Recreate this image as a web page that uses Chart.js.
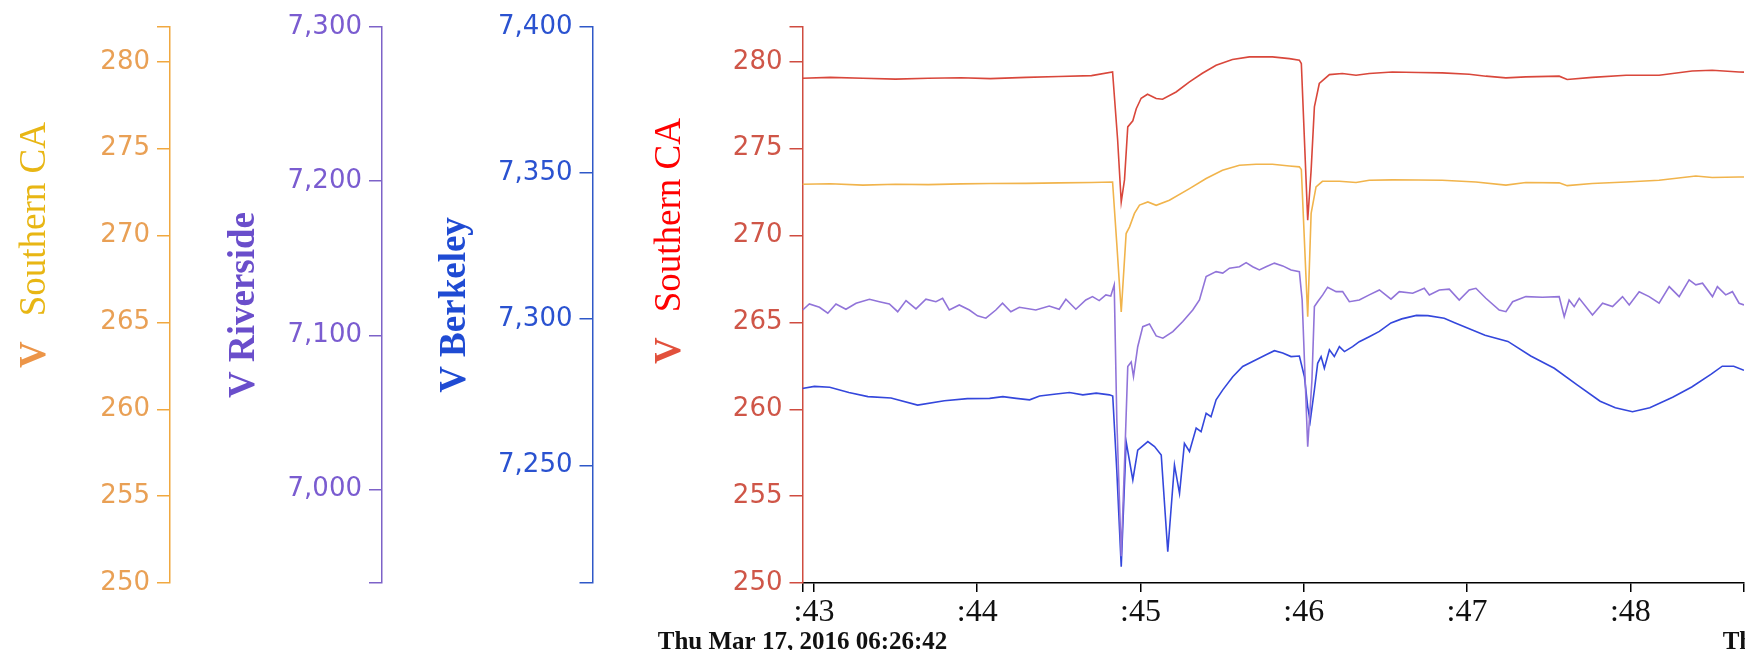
<!DOCTYPE html>
<html>
<head>
<meta charset="utf-8">
<script src="https://cdn.jsdelivr.net/npm/chart.js@4/dist/chart.umd.min.js"></script>
<style>
html, body { margin: 0; padding: 0; background: #ffffff; }
#wrap { width: 1745px; height: 650px; position: relative; }
</style>
</head>
<body>
<div id="wrap"><canvas id="c"></canvas></div>
<script>
// ---------- tick labels ----------
const startLabel = 'Thu Mar 17, 2016 06:26:42';
const endLabelVisible = 'Th';
const xTicks = [42.93, 43, 44, 45, 46, 47, 48, 48.696];          // seconds
const socalTicks = [250, 255, 260, 265, 270, 275, 280, 282];
const riversideTicks = [6939.5, 7000, 7100, 7200, 7300];
const berkeleyTicks = [7209.7, 7250, 7300, 7350, 7400];

// ---------- series: V Southern CA (red, main axis) ----------
const socalMainTime = [
  42.93, 43.10, 43.30, 43.50, 43.70, 43.90, 44.08, 44.30, 44.50, 44.70,
  44.829, 44.860, 44.882, 44.902, 44.922, 44.953, 44.974, 45.004, 45.043, 45.096,
  45.135, 45.218, 45.300, 45.379, 45.463, 45.563, 45.667, 45.808, 45.912, 45.973,
  45.985, 46.024, 46.045, 46.065, 46.095, 46.157, 46.236, 46.320, 46.401, 46.542,
  46.700, 46.848, 47.013, 47.116, 47.238, 47.360, 47.564, 47.613, 47.766, 47.974,
  48.176, 48.378, 48.501, 48.666, 48.696
];
const socalMainVolts = [
  279.05, 279.10, 279.05, 279.00, 279.05, 279.08, 279.03, 279.10, 279.15, 279.20,
  279.41, 275.50, 271.93, 273.20, 276.25, 276.60, 277.30, 277.90, 278.13, 277.88,
  277.84, 278.26, 278.84, 279.34, 279.80, 280.13, 280.28, 280.28, 280.18, 280.09,
  279.90, 270.88, 273.76, 277.40, 278.75, 279.26, 279.32, 279.22, 279.32, 279.41,
  279.38, 279.36, 279.28, 279.17, 279.07, 279.13, 279.17, 278.98, 279.10, 279.22,
  279.22, 279.47, 279.51, 279.41, 279.40
];

// ---------- series: V Southern CA (orange, outer axis) ----------
const socalAltTime = [
  42.93, 43.10, 43.30, 43.50, 43.70, 43.90, 44.08, 44.30, 44.50, 44.70,
  44.829, 44.855, 44.882, 44.912, 44.933, 44.963, 44.994, 45.045, 45.096, 45.177,
  45.300, 45.402, 45.502, 45.606, 45.708, 45.808, 45.912, 45.973, 45.985, 46.024,
  46.045, 46.075, 46.114, 46.218, 46.320, 46.401, 46.542, 46.700, 46.848, 47.054,
  47.238, 47.360, 47.564, 47.613, 47.766, 47.974, 48.176, 48.401, 48.501, 48.666,
  48.696
];
const socalAltVolts = [
  272.95, 272.98, 272.90, 272.95, 272.93, 272.97, 272.99, 273.00, 273.03, 273.05,
  273.08, 269.50, 265.60, 270.11, 270.50, 271.27, 271.75, 271.93, 271.74, 272.03,
  272.70, 273.28, 273.76, 274.04, 274.10, 274.10, 274.00, 273.95, 273.80, 265.32,
  271.27, 272.80, 273.12, 273.12, 273.05, 273.18, 273.20, 273.19, 273.18, 273.08,
  272.90, 273.05, 273.03, 272.87, 272.99, 273.08, 273.18, 273.42, 273.34, 273.37,
  273.37
];

// ---------- series: V Riverside (purple) ----------
const riversideTime = [
  42.931, 42.972, 43.034, 43.085, 43.135, 43.196, 43.258, 43.340, 43.401, 43.462,
  43.513, 43.564, 43.625, 43.686, 43.747, 43.788, 43.829, 43.890, 43.952, 44.002,
  44.053, 44.114, 44.155, 44.206, 44.258, 44.359, 44.441, 44.502, 44.543, 44.604,
  44.665, 44.706, 44.747, 44.788, 44.818, 44.839, 44.855, 44.882, 44.905, 44.922,
  44.943, 44.957, 44.983, 45.014, 45.055, 45.096, 45.137, 45.198, 45.259, 45.320,
  45.361, 45.402, 45.463, 45.504, 45.545, 45.606, 45.647, 45.687, 45.728, 45.769,
  45.820, 45.871, 45.922, 45.973, 45.990, 46.024, 46.050, 46.065, 46.085, 46.116,
  46.146, 46.198, 46.238, 46.279, 46.340, 46.401, 46.463, 46.534, 46.585, 46.667,
  46.738, 46.769, 46.830, 46.891, 46.952, 47.013, 47.054, 47.115, 47.197, 47.238,
  47.279, 47.360, 47.462, 47.564, 47.595, 47.625, 47.656, 47.687, 47.768, 47.830,
  47.891, 47.952, 47.993, 48.054, 48.115, 48.176, 48.238, 48.299, 48.360, 48.401,
  48.442, 48.503, 48.533, 48.584, 48.625, 48.666, 48.696
];
const riversideVolts = [
  7116.5, 7120.4, 7118.3, 7114.4, 7120.4, 7117.0, 7120.9, 7123.5, 7121.9, 7120.4,
  7115.4, 7122.6, 7117.2, 7123.5, 7121.9, 7124.1, 7116.5, 7119.8, 7116.5, 7112.7,
  7111.2, 7116.5, 7120.9, 7115.4, 7118.3, 7116.5, 7119.1, 7117.0, 7123.5, 7117.0,
  7123.0, 7125.2, 7122.6, 7126.3, 7125.6, 7132.8, 7045.3, 6956.9, 7025.7, 7079.8,
  7082.8, 7073.3, 7092.7, 7105.7, 7107.5, 7099.7, 7098.2, 7102.5, 7109.0, 7116.5,
  7123.0, 7138.2, 7141.4, 7140.4, 7143.6, 7144.6, 7147.2, 7144.6, 7142.5, 7144.6,
  7146.9, 7145.1, 7142.5, 7141.4, 7123.0, 7027.8, 7071.1, 7118.7, 7121.9, 7126.3,
  7131.3, 7128.4, 7128.4, 7121.9, 7123.0, 7126.3, 7129.5, 7123.5, 7128.4, 7127.4,
  7130.6, 7126.3, 7129.5, 7130.0, 7123.0, 7129.5, 7130.6, 7124.1, 7116.5, 7115.4,
  7121.9, 7125.2, 7124.8, 7125.2, 7112.2, 7123.0, 7118.7, 7124.1, 7113.3, 7120.9,
  7118.7, 7125.2, 7119.8, 7128.4, 7125.2, 7120.9, 7131.7, 7125.2, 7136.0, 7132.8,
  7133.9, 7125.2, 7131.7, 7126.3, 7128.4, 7120.9, 7119.8
];

// ---------- series: V Berkeley (blue) ----------
const berkeleyTime = [
  42.928, 43.003, 43.097, 43.214, 43.331, 43.472, 43.635, 43.799, 43.940, 44.076,
  44.157, 44.239, 44.321, 44.382, 44.484, 44.565, 44.647, 44.729, 44.810, 44.830,
  44.855, 44.882, 44.912, 44.953, 44.983, 45.045, 45.086, 45.127, 45.167, 45.208,
  45.239, 45.269, 45.300, 45.341, 45.371, 45.402, 45.432, 45.463, 45.504, 45.565,
  45.626, 45.708, 45.769, 45.820, 45.871, 45.922, 45.973, 46.004, 46.024, 46.039,
  46.065, 46.085, 46.106, 46.126, 46.157, 46.187, 46.218, 46.249, 46.299, 46.340,
  46.401, 46.463, 46.534, 46.600, 46.690, 46.760, 46.860, 46.924, 47.110, 47.250,
  47.390, 47.534, 47.674, 47.815, 47.908, 48.013, 48.119, 48.259, 48.376, 48.493,
  48.563, 48.633, 48.696
];
const berkeleyVolts = [
  7276.3, 7277.0, 7276.7, 7274.9, 7273.5, 7273.0, 7270.6, 7272.1, 7272.8, 7272.9,
  7273.5, 7272.9, 7272.4, 7273.7, 7274.4, 7274.9, 7274.1, 7274.7, 7274.1, 7273.7,
  7248.0, 7215.3, 7258.1, 7245.0, 7255.2, 7258.1, 7256.4, 7253.5, 7220.4, 7250.1,
  7240.4, 7257.5, 7254.7, 7262.7, 7261.5, 7267.8, 7266.6, 7272.4, 7275.8, 7280.3,
  7283.8, 7286.1, 7287.8, 7289.2, 7288.4, 7287.2, 7287.4, 7280.3, 7270.0, 7265.0,
  7275.8, 7284.9, 7287.2, 7283.2, 7289.5, 7287.2, 7290.6, 7288.9, 7290.6, 7292.3,
  7294.0, 7295.8, 7298.7, 7300.1, 7301.3, 7301.2, 7300.3, 7298.8, 7294.5, 7292.4,
  7287.4, 7283.2, 7277.5, 7271.9, 7269.7, 7268.3, 7269.7, 7273.3, 7276.8, 7281.1,
  7283.9, 7283.9, 7282.5
];

// ---------- helpers ----------
const toPoints = (ts, vs) => ts.map((t, i) => ({ x: t, y: vs[i] }));
const setTicks = arr => scale => { scale.ticks = arr.map(v => ({ value: v })); };
const SANS = '"DejaVu Sans", Verdana, sans-serif';
const SERIF = '"Liberation Serif", "Times New Roman", serif';

function yAxis(opts) {
  return {
    type: 'linear',
    position: 'left',
    weight: opts.weight,
    min: opts.ticks[0],
    max: opts.ticks[opts.ticks.length - 1],
    afterBuildTicks: setTicks(opts.ticks),
    afterFit: s => { s.width = opts.width; },
    border: { display: true, color: opts.axisColor, width: 1.5 },
    grid: { drawOnChartArea: false, drawTicks: true, tickLength: 13, color: opts.axisColor, lineWidth: 1.5 },
    ticks: {
      autoSkip: false, padding: 7, color: opts.labelColor,
      font: { family: SANS, size: 26 },
      callback: opts.format
    }
  };
}

const textPlugin = {
  id: 'textPlugin',
  afterDraw(chart) {
    const { ctx, chartArea, scales } = chart;
    const mid = (chartArea.top + chartArea.bottom) / 2;
    function vtext(x, y, parts, center) {
      ctx.save();
      ctx.translate(x, y);
      ctx.rotate(-Math.PI / 2);
      ctx.textBaseline = 'alphabetic';
      ctx.textAlign = 'left';
      let total = 0;
      parts.forEach(p => { ctx.font = p.font; p.w = ctx.measureText(p.text).width; total += p.w + (p.gap || 0); });
      let cx = center ? -total / 2 : 0;
      parts.forEach(p => { ctx.font = p.font; ctx.fillStyle = p.color; ctx.fillText(p.text, cx, 0); cx += p.w + (p.gap || 0); });
      ctx.restore();
    }
    const B = 'bold 37px ' + SERIF, R = '37px ' + SERIF;
    vtext(scales.ySoCalAlt.left + 45, mid + 63, [
      { text: 'V', font: B, color: '#ec9548', gap: 25 },
      { text: 'Southern CA', font: R, color: '#e8b614' }
    ], false);
    vtext(scales.yRiverside.left + 84, mid, [
      { text: 'V Riverside', font: B, color: '#6a4ecb' }
    ], true);
    vtext(scales.yBerkeley.left + 83, mid, [
      { text: 'V Berkeley', font: B, color: '#1f4bd3' }
    ], true);
    vtext(scales.ySoCal.left + 87.5, mid + 59, [
      { text: 'V', font: B, color: '#e2503c', gap: 25 },
      { text: 'Southern CA', font: R, color: '#ff0000' }
    ], false);

    ctx.save();
    ctx.font = 'bold 25px ' + SERIF;
    ctx.fillStyle = '#111111';
    ctx.textBaseline = 'alphabetic';
    ctx.textAlign = 'center';
    ctx.fillText(startLabel, chartArea.left, 649);
    ctx.textAlign = 'left';
    ctx.fillText(endLabelVisible, 1722.7, 649);
    ctx.restore();
  }
};

new Chart(document.getElementById('c'), {
  type: 'line',
  data: {
    datasets: [
      { label: 'V Southern CA', data: toPoints(socalMainTime, socalMainVolts), yAxisID: 'ySoCal',
        borderColor: '#d9473b' },
      { label: 'V Southern CA (outer)', data: toPoints(socalAltTime, socalAltVolts), yAxisID: 'ySoCalAlt',
        borderColor: '#f1b44c' },
      { label: 'V Riverside', data: toPoints(riversideTime, riversideVolts), yAxisID: 'yRiverside',
        borderColor: '#9174d9' },
      { label: 'V Berkeley', data: toPoints(berkeleyTime, berkeleyVolts), yAxisID: 'yBerkeley',
        borderColor: '#3447dc' }
    ]
  },
  options: {
    responsive: true,
    maintainAspectRatio: false,
    animation: false,
    layout: { padding: { top: 27, left: 0, right: 0, bottom: 0 } },
    plugins: { legend: { display: false }, tooltip: { enabled: false } },
    elements: {
      point: { radius: 0, hoverRadius: 0 },
      line: { tension: 0, borderWidth: 1.6, fill: false }
    },
    scales: {
      x: {
        type: 'linear',
        position: 'bottom',
        min: xTicks[0],
        max: xTicks[xTicks.length - 1],
        afterBuildTicks: setTicks(xTicks),
        afterFit: s => { s.height = 67; },
        border: { display: true, color: '#000000', width: 1.5 },
        grid: { drawOnChartArea: false, drawTicks: true, tickLength: 9, color: '#000000', lineWidth: 1.5 },
        ticks: {
          autoSkip: false, maxRotation: 0, minRotation: 0, padding: 1, color: '#111111',
          font: { family: SERIF, size: 32 },
          callback: v => Number.isInteger(v) ? ':' + v : ''
        }
      },
      ySoCal: yAxis({ weight: 0, width: 210, ticks: socalTicks, axisColor: '#cf4c40', labelColor: '#cf5648',
        format: v => (v % 5 === 0 ? String(v) : '') }),
      yBerkeley: yAxis({ weight: 1, width: 210.5, ticks: berkeleyTicks, axisColor: '#2f58c8', labelColor: '#2a52d0',
        format: v => (v % 50 === 0 ? v.toLocaleString('en-US') : '') }),
      yRiverside: yAxis({ weight: 2, width: 212, ticks: riversideTicks, axisColor: '#7d62c8', labelColor: '#7a5cd0',
        format: v => (v % 100 === 0 ? v.toLocaleString('en-US') : '') }),
      ySoCalAlt: yAxis({ weight: 3, width: 170, ticks: socalTicks, axisColor: '#f0a840', labelColor: '#e9a055',
        format: v => (v % 5 === 0 ? String(v) : '') })
    }
  },
  plugins: [textPlugin]
});
</script>
</body>
</html>
